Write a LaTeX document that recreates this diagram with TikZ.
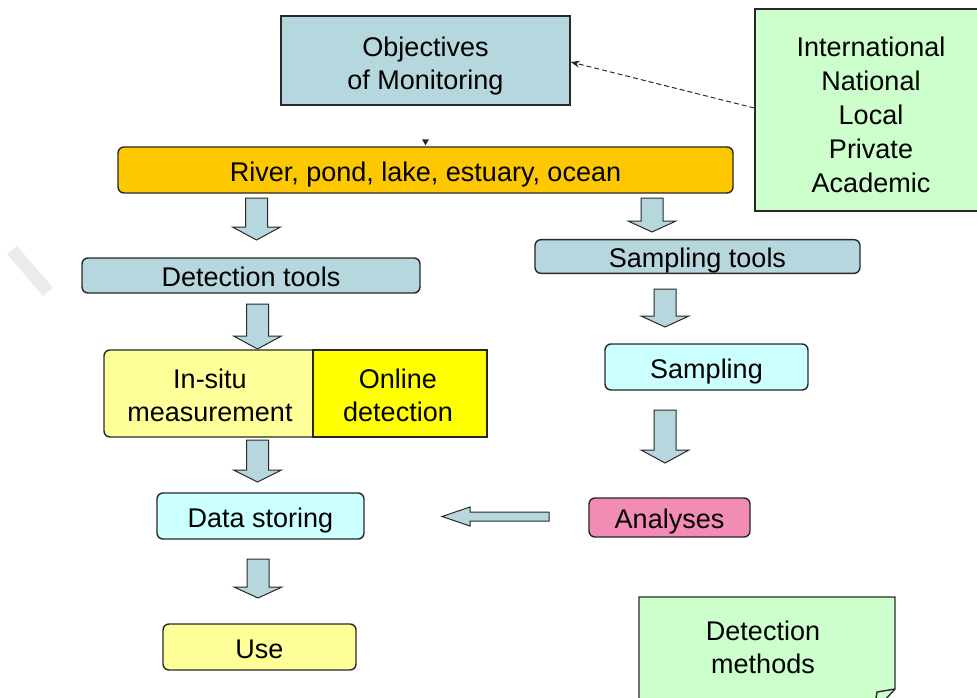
\documentclass[tikz,border=0pt]{standalone}
\usepackage{fontspec}
\setmainfont{Liberation Sans}
\usetikzlibrary{arrows.meta,calc}

\definecolor{boxblue}{RGB}{183,215,222}
\definecolor{riverorange}{RGB}{253,200,0}
\definecolor{notegreen}{RGB}{204,255,204}
\definecolor{paleyellow}{RGB}{255,255,153}
\definecolor{brightyellow}{RGB}{255,255,0}
\definecolor{palecyan}{RGB}{204,255,255}
\definecolor{analysespink}{RGB}{242,140,180}
\definecolor{linegray}{RGB}{40,40,40}
\definecolor{watermark}{RGB}{236,236,236}

\tikzset{
  txt/.style={font=\fontsize{27}{33}\selectfont, text=black, inner sep=0pt, align=center},
  onetxt/.style={txt, text height=28pt, text depth=5.7pt},
  boxline/.style={draw=linegray, line width=1.4pt},
  sharpbox/.style={boxline, inner sep=0pt},
  roundbox/.style={onetxt, boxline, rounded corners=6pt},
  arrowline/.style={draw=linegray, line width=1pt, fill=boxblue},
}

% block arrow pointing down: centre x, top y, head base y, tip y
\newcommand{\blockdown}[4]{%
  \draw[arrowline] (#1-11,#2) -- (#1+11,#2) -- (#1+11,#3) -- (#1+24,#3)
    -- (#1,#4) -- (#1-24,#3) -- (#1-11,#3) -- cycle;}

\begin{document}
\begin{tikzpicture}[x=1pt,y=-1pt]
\useasboundingbox (0,0) rectangle (977,698);
\clip (0,0) rectangle (977,698);

% faint watermark stroke
\draw[watermark, line width=13pt] (12,250) -- (48,292);

% top boxes
\node[sharpbox, fill=boxblue, minimum width=289pt, minimum height=89pt] (obj) at (425.5,60.5) {};
\node[txt] (objtext) at (425.5,66) {Objectives\\of Monitoring};
\node[sharpbox, fill=notegreen, minimum width=232pt, minimum height=202pt] (green) at (871,110) {};
\node[txt, font=\fontsize{27}{34}\selectfont] (greentext) at (871,115) {International\\National\\Local\\Private\\Academic};
\node[roundbox, fill=riverorange, minimum width=615pt, minimum height=46pt] (river) at (425.5,170) {River, pond, lake, estuary, ocean};

% left column
\node[roundbox, fill=boxblue, minimum width=338pt, minimum height=35pt] (dettools) at (251,275.5) {Detection tools};
\draw[boxline, fill=paleyellow, rounded corners=6pt] (104,350) rectangle (322,437);
\node[sharpbox, fill=brightyellow, minimum width=174pt, minimum height=87pt] (online) at (400,393.5) {};
\node[txt] (onlinetext) at (398,395.5) {Online\\detection};
\node[txt] (insitu) at (210,395.5) {In-situ\\measurement};
\node[roundbox, fill=palecyan, minimum width=207pt, minimum height=46pt] (datastor) at (260.5,516) {Data storing};
\node[roundbox, fill=paleyellow, minimum width=193pt, minimum height=46pt] (use) at (259.5,647) {Use};

% right column
\node[roundbox, fill=boxblue, minimum width=325pt, minimum height=33pt] (samptools) at (697.5,256.5) {Sampling tools};
\node[roundbox, fill=palecyan, minimum width=203pt, minimum height=46pt] (sampling) at (706.5,367) {Sampling};
\node[roundbox, fill=analysespink, minimum width=161pt, minimum height=39pt] (analyses) at (669.5,517.5) {Analyses};

% detection methods note (runs off the bottom edge)
\draw[boxline, fill=notegreen] (639,597) -- (895,597) -- (895,689) -- (874,712) -- (639,712) -- cycle;
\draw[boxline] (895,689) -- (877,692) -- (874,712);
\coordinate (detmeth) at (767,654);
\node[txt] (detmethtext) at (763,647.5) {Detection\\methods};

% connectors
\draw[linegray, line width=1pt, dash pattern=on 5pt off 3pt, -{Stealth[length=9pt,width=7pt]}] ($(green.west)+(0,-2)$) -- ($(obj.east)+(0,1.5)$);
\fill[linegray] ($(river.north)+(0,-1)$) -- ++(-3.5,-6) -- ++(7,0) -- cycle;

\blockdown{256.5}{198}{227}{240}
\blockdown{257.5}{304}{336}{349}
\blockdown{257.5}{440}{470}{482}
\blockdown{258}{559}{587}{598}
\blockdown{652}{198}{221}{232}
\blockdown{665}{289}{316}{327}
\blockdown{665}{410}{450}{463}

\draw[arrowline] (549,512) -- (470,512) -- (470,507) -- (442,516.5)
  -- (470,526) -- (470,521) -- (549,521) -- cycle;

\end{tikzpicture}
\end{document}
